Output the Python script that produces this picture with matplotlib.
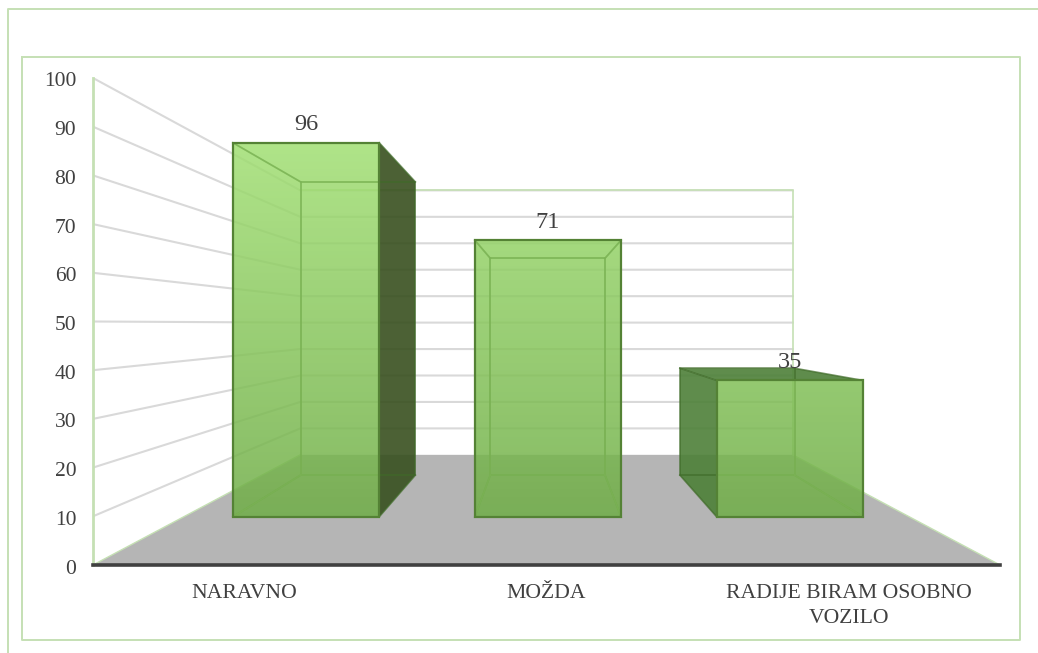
"""Fake-3D column chart drawn on a flat axes with a one-point perspective."""

from __future__ import annotations

import matplotlib

matplotlib.use("Agg")

import matplotlib.pyplot as plt
import numpy as np
from matplotlib.colors import LinearSegmentedColormap
from matplotlib.lines import Line2D
from matplotlib.patches import Polygon
from matplotlib.transforms import ScaledTranslation

plt.rcParams["font.family"] = ["Liberation Serif", "DejaVu Serif"]

WIDTH, HEIGHT = 1038, 653

categories = ["NARAVNO", "MOŽDA", "RADIJE BIRAM OSOBNO\nVOZILO"]
values = [96, 71, 35]
side_colors = ["#38501f", "#4d8038", "#4d8038"]
value_ticks = list(range(0, 101, 10))

# perspective: the front plane of the axes shrinks towards this point
VANISH_X, VANISH_Y = 1.5, 49.5
BACK_SCALE = 0.543
BAR_FRONT_DEPTH, BAR_BACK_DEPTH = 0.4376, 0.816
BAR_WIDTH = 0.605
BAR_SHIFT = 0.006

BORDER = "#c5e0b4"
GRID = "#d9d9d9"
TEXT = "#404040"
EDGE_DARK = "#548235"
EDGE_LIGHT = "#7cb356"
EDGE_OUTER = "#3f6a28"


def project(cat: float, value: float, depth: float) -> tuple[float, float]:
    """Map chart coordinates to the flat axes, depth 0 = front, 1 = back wall."""
    scale = 1 - depth * (1 - BACK_SCALE)
    return VANISH_X + (cat - VANISH_X) * scale, VANISH_Y + (value - VANISH_Y) * scale


def px_line(fig, xs: list[float], ys: list[float]) -> None:
    fig.add_artist(
        Line2D(
            [x / WIDTH for x in xs],
            [1 - y / HEIGHT for y in ys],
            color=BORDER,
            linewidth=1.4,
            transform=fig.transFigure,
        )
    )


def draw_walls(ax) -> None:
    for tick in value_ticks[1:]:
        left_wall = [project(0, tick, 0), project(0, tick, 1), project(3, tick, 1)]
        ax.plot(*zip(*left_wall), color=GRID, linewidth=1.5, zorder=1)

    outline = [project(0, 100, 1), project(3, 100, 1), project(3, 0, 1)]
    ax.plot(*zip(*outline), color=BORDER, linewidth=1.2, zorder=1.5)

    floor = [project(0, 0, 0), project(0, 0, 1), project(3, 0, 1), project(3, 0, 0)]
    ax.add_patch(Polygon(floor, closed=True, facecolor="#b5b5b5", edgecolor="none", zorder=2))
    for cat in (0, 3):
        edge = [project(cat, 0, 0), project(cat, 0, 1)]
        ax.plot(*zip(*edge), color=BORDER, linewidth=1.0, zorder=2.1)


def draw_bar(ax, center: float, value: float, side_color: str, cmap) -> None:
    left, right = center - BAR_WIDTH / 2, center + BAR_WIDTH / 2
    near, far = BAR_FRONT_DEPTH, BAR_BACK_DEPTH

    # outer faces that can be seen from the viewpoint
    faces = []
    if right < VANISH_X:
        faces.append([(right, 0, near), (right, 0, far), (right, value, far), (right, value, near)])
    if left > VANISH_X:
        faces.append([(left, 0, near), (left, 0, far), (left, value, far), (left, value, near)])
    if value < VANISH_Y:
        faces.append([(left, value, near), (left, value, far), (right, value, far), (right, value, near)])
    for face in faces:
        points = [project(*corner) for corner in face]
        ax.add_patch(
            Polygon(points, closed=True, facecolor=side_color, edgecolor="none", alpha=0.9, zorder=3)
        )

    front = [project(left, 0, near), project(right, 0, near), project(right, value, near), project(left, value, near)]
    back = [project(left, 0, far), project(right, 0, far), project(right, value, far), project(left, value, far)]

    # box edges outside the front face are dark, those seen through it are light
    for color, width, alpha, zorder in ((EDGE_OUTER, 1.2, 0.7, 3.5), (EDGE_LIGHT, 1.2, 0.8, 5)):
        artists = [ax.add_patch(Polygon(back, closed=True, fill=False, edgecolor=color, linewidth=width, alpha=alpha, zorder=zorder))]
        for near_corner, far_corner in zip(front, back):
            artists += ax.plot(*zip(near_corner, far_corner), color=color, linewidth=width, alpha=alpha, zorder=zorder)
        if zorder == 5:
            for artist in artists:
                artist.set_clip_path(Polygon(front, closed=True, transform=ax.transData))

    gradient = np.linspace(1, 0, 256).reshape(-1, 1)
    image = ax.imshow(
        gradient,
        cmap=cmap,
        extent=(0, 3, 0, 100),
        aspect="auto",
        alpha=0.85,
        zorder=4,
    )
    image.set_clip_path(Polygon(front, closed=True, transform=ax.transData))

    ax.add_patch(Polygon(front, closed=True, fill=False, edgecolor=EDGE_DARK, linewidth=1.6, zorder=6))

    ax.annotate(
        str(value),
        xy=project(center, value, near),
        xytext=(0, 13),
        textcoords="offset points",
        ha="center",
        va="center",
        fontsize=17.5,
        color=TEXT,
        zorder=7,
    )


def main() -> None:
    fig = plt.figure(figsize=(WIDTH / 100, HEIGHT / 100), dpi=100)
    ax = fig.add_axes([93 / WIDTH, 1 - 565 / HEIGHT, 907 / WIDTH, 487 / HEIGHT])

    cmap = LinearSegmentedColormap.from_list("bar_green", ["#69a741", "#aae87b"])

    draw_walls(ax)
    for idx, value in enumerate(values):
        draw_bar(ax, idx + 0.5 + BAR_SHIFT, value, side_colors[idx], cmap)

    ax.set_xlim(0, 3)
    ax.set_ylim(0, 100)
    ax.set_yticks(value_ticks)
    ax.set_xticks([idx + 0.5 for idx in range(len(categories))])
    ax.set_xticklabels(categories, linespacing=1.42)
    ax.tick_params(axis="y", length=0, pad=12, labelsize=15.5, labelcolor=TEXT)
    ax.tick_params(axis="x", length=0, pad=13.5, labelsize=15.6, labelcolor=TEXT)
    nudge = ScaledTranslation(0, -1.5 / 100, fig.dpi_scale_trans)
    for label in ax.get_yticklabels():
        label.set_transform(label.get_transform() + nudge)

    for side in ("top", "right"):
        ax.spines[side].set_visible(False)
    ax.spines["left"].set_color(BORDER)
    ax.spines["left"].set_linewidth(2)
    ax.spines["bottom"].set_color(TEXT)
    ax.spines["bottom"].set_linewidth(2.6)
    ax.spines["bottom"].set_capstyle("projecting")
    ax.spines["bottom"].set_zorder(8)

    # slide-style frames around the chart
    px_line(fig, [8, 8, WIDTH], [HEIGHT, 9, 9])
    px_line(fig, [22, 22, 1020, 1020, 22], [57, 640, 640, 57, 57])

    fig.savefig("out.png", dpi=100)
    plt.close(fig)


if __name__ == "__main__":
    main()
